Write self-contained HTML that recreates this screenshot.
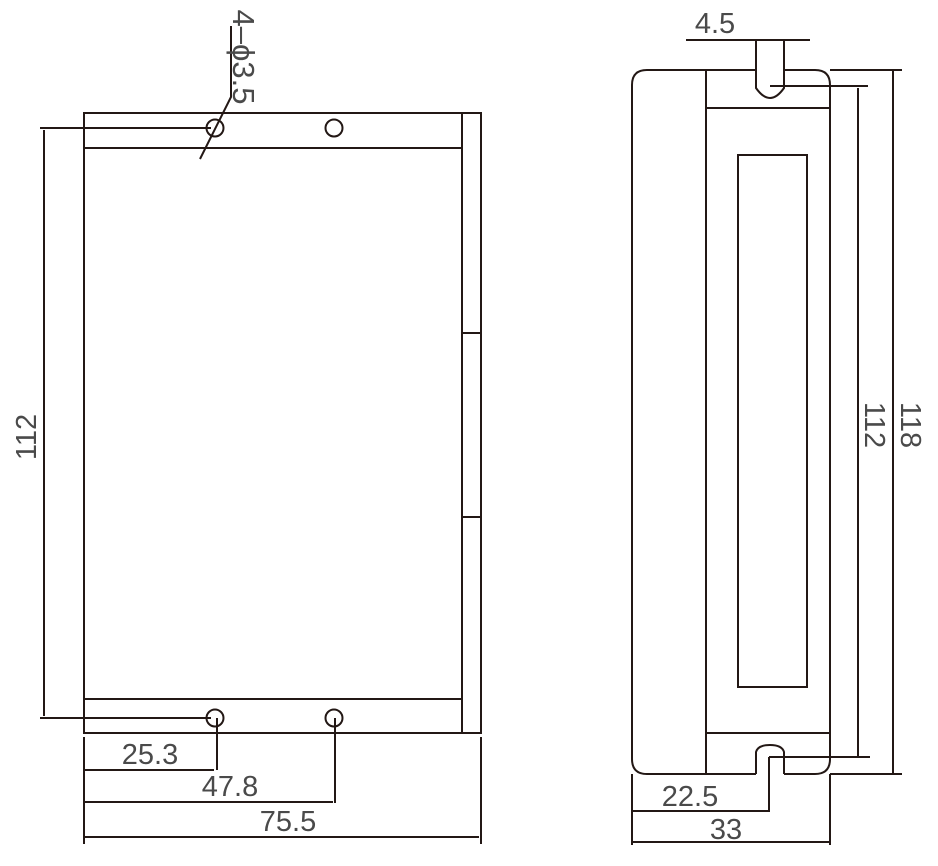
<!DOCTYPE html>
<html><head><meta charset="utf-8"><style>
html,body{margin:0;padding:0;background:#fff}
svg{display:block}
text{font-family:"Liberation Sans",sans-serif;font-size:29px;fill:#4a4a4a}
</style></head><body>
<svg width="938" height="866" viewBox="0 0 938 866" xmlns="http://www.w3.org/2000/svg">
<g fill="none" stroke="#231815" stroke-width="2">
<rect x="84" y="113" width="397" height="620"/>
<line x1="462" y1="113" x2="462" y2="733"/>
<line x1="84" y1="148" x2="462" y2="148"/>
<line x1="84" y1="699" x2="462" y2="699"/>
<line x1="462" y1="333" x2="481" y2="333"/>
<line x1="462" y1="517" x2="481" y2="517"/>
<circle cx="215" cy="128" r="8.5"/>
<circle cx="334" cy="128" r="8.5"/>
<circle cx="215" cy="718" r="8.5"/>
<circle cx="334" cy="718" r="8.5"/>
<line x1="40" y1="128" x2="211" y2="128"/>
<line x1="40" y1="718" x2="211" y2="718"/>
<line x1="44" y1="130" x2="44" y2="716"/>
<polyline points="200,159 231,97 231,26"/>
<line x1="84" y1="737" x2="84" y2="844"/>
<line x1="481" y1="737" x2="481" y2="844"/>
<line x1="217" y1="718" x2="217" y2="770"/>
<line x1="84" y1="770" x2="214" y2="770"/>
<line x1="335" y1="718" x2="335" y2="803"/>
<line x1="84" y1="802" x2="333" y2="802"/>
<line x1="84" y1="837" x2="479" y2="837"/>
<path d="M756,70 H647 Q632,70 632,85 V759 Q632,774 647,774 H756"/>
<path d="M784,774 H815 Q830,774 830,759 V85 Q830,70 815,70 H784"/>
<line x1="706" y1="70" x2="706" y2="774"/>
<line x1="706" y1="108" x2="830" y2="108"/>
<line x1="706" y1="733" x2="830" y2="733"/>
<rect x="738" y="155" width="69" height="532"/>
<path d="M756,40 V88 Q763,98 770,98 Q777,98 784,88 V40"/>
<line x1="686" y1="40" x2="810" y2="40"/>
<path d="M756,774 V752 Q758,745 770,745 Q782,745 784,752 V774"/>
<line x1="830" y1="70" x2="902" y2="70"/>
<line x1="893" y1="70" x2="893" y2="774"/>
<line x1="830" y1="774" x2="902" y2="774"/>
<line x1="770" y1="86" x2="868" y2="86"/>
<line x1="858" y1="88" x2="858" y2="757"/>
<line x1="769" y1="757" x2="870" y2="757"/>
<polyline points="769,757 769,811 632,811"/>
<line x1="632" y1="774" x2="632" y2="845"/>
<line x1="830" y1="774" x2="830" y2="845"/>
<line x1="632" y1="842" x2="830" y2="842"/>
</g>
<text x="150" y="764" text-anchor="middle">25.3</text>
<text x="230" y="796" text-anchor="middle">47.8</text>
<text x="288" y="831" text-anchor="middle">75.5</text>
<text x="715" y="33" text-anchor="middle">4.5</text>
<text x="690" y="806" text-anchor="middle">22.5</text>
<text x="726" y="839" text-anchor="middle">33</text>
<text transform="translate(36,437) rotate(-90)" text-anchor="middle">112</text>
<text transform="translate(233,57) rotate(90)" text-anchor="middle" style="font-size:31px">4–ϕ3.5</text>
<text transform="translate(865,425) rotate(90)" text-anchor="middle">112</text>
<text transform="translate(901,425) rotate(90)" text-anchor="middle">118</text>
</svg>
</body></html>
